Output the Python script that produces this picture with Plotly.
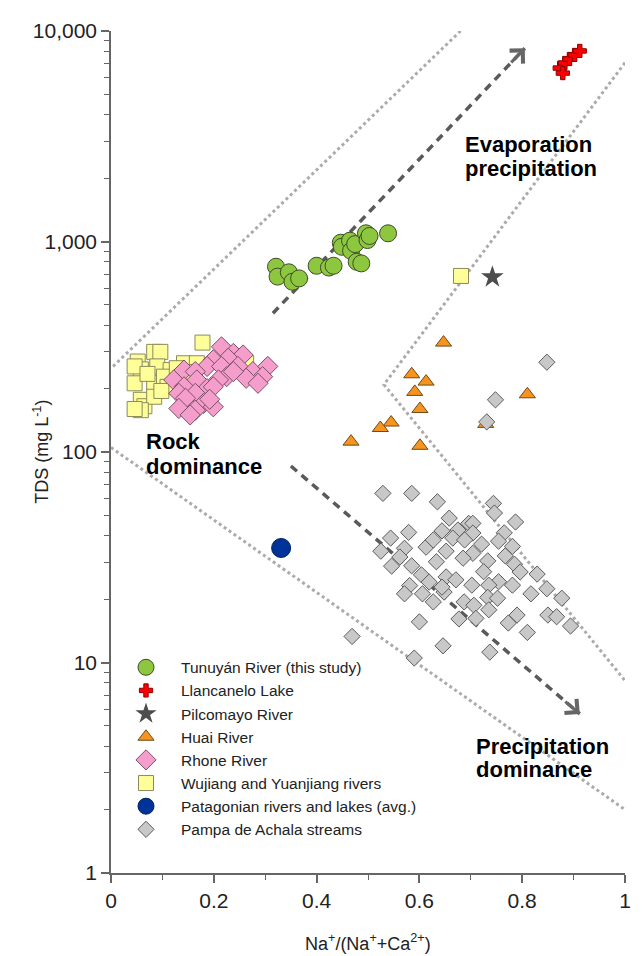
import math
import plotly.graph_objects as go

FONT = "Liberation Sans, Arial, Helvetica, sans-serif"

# ---------------- data (x = Na+/(Na+ + Ca2+), y = TDS mg/L) ----------------
tunuyan_x = [0.321, 0.324, 0.346, 0.353, 0.366, 0.400, 0.424, 0.433, 0.447, 0.449,
             0.465, 0.467, 0.475, 0.478, 0.487, 0.496, 0.499, 0.503, 0.539]
tunuyan_y = [759, 681, 714, 644, 668, 767, 752, 767, 987, 944,
             1009, 903, 972, 801, 787, 1094, 1016, 1062, 1094]

llancanelo_x = [0.873, 0.883, 0.892, 0.902, 0.912, 0.879]
llancanelo_y = [6668, 7047, 7362, 7697, 8040, 6310]

pilcomayo_x = [0.742]
pilcomayo_y = [678]

huai_x = [0.647, 0.585, 0.613, 0.591, 0.601, 0.810, 0.545, 0.524, 0.601, 0.729, 0.467]
huai_y = [331, 234, 216, 193, 160, 188, 138, 130, 107, 136, 112]

rhone_x = [0.215, 0.238, 0.257, 0.228, 0.199, 0.187, 0.215, 0.247, 0.276, 0.305,
           0.295, 0.263, 0.286, 0.225, 0.209, 0.142, 0.122, 0.164, 0.167, 0.142,
           0.187, 0.199, 0.164, 0.132, 0.145, 0.180, 0.132, 0.164, 0.199, 0.154,
           0.192, 0.238]
rhone_y = [316, 294, 289, 279, 274, 255, 255, 255, 241, 255,
           228, 224, 212, 228, 220, 245, 220, 241, 220, 204,
           200, 204, 190, 190, 180, 170, 161, 158, 164, 150,
           178, 241]

wujiang_x = [0.178, 0.084, 0.096, 0.052, 0.058, 0.046, 0.090, 0.116, 0.142, 0.167,
             0.046, 0.084, 0.103, 0.058, 0.065, 0.084, 0.110, 0.263, 0.058, 0.046,
             0.071, 0.128, 0.098, 0.160, 0.681]
wujiang_y = [331, 299, 299, 269, 247, 255, 255, 245, 264, 264,
             212, 213, 228, 177, 165, 183, 204, 264, 158, 160,
             235, 250, 195, 240, 686]

patagonia_x = [0.331]
patagonia_y = [35.0]

achala_x = [0.848, 0.748, 0.731, 0.529, 0.585, 0.635, 0.658, 0.644, 0.675, 0.696,
            0.544, 0.579, 0.525, 0.571, 0.613, 0.652, 0.585, 0.604, 0.633, 0.652,
            0.581, 0.571, 0.606, 0.627, 0.648, 0.619, 0.600, 0.677, 0.469, 0.646,
            0.590, 0.687, 0.744, 0.746, 0.787, 0.765, 0.754, 0.781, 0.704, 0.704,
            0.704, 0.733, 0.785, 0.796, 0.829, 0.754, 0.781, 0.735, 0.848, 0.817,
            0.877, 0.702, 0.733, 0.752, 0.706, 0.735, 0.710, 0.790, 0.773, 0.850,
            0.867, 0.894, 0.810, 0.737, 0.685, 0.644, 0.671, 0.562, 0.546, 0.627,
            0.665, 0.688, 0.721, 0.725, 0.767]
achala_y = [267, 177, 139, 63.6, 63.6, 58, 48.5, 42.2, 42.6, 45.8,
            39, 41.5, 33.8, 34.9, 35.3, 33.8, 28.8, 26.1, 30.1, 25.5,
            23.2, 21.2, 21.2, 19.4, 21.6, 24.1, 15.6, 16.1, 13.3, 12.0,
            10.5, 19.4, 57, 51.3, 46.5, 41.3, 37.7, 35.6, 45.8, 41.2,
            33, 30.4, 29.3, 26.9, 26.3, 24.2, 23.3, 23.3, 22.4, 21.2,
            20.2, 23.3, 20.4, 20.2, 18.7, 17.8, 16.2, 16.8, 15.4, 16.8,
            16.5, 14.9, 13.9, 11.2, 31.3, 22.8, 24.7, 31.7, 28.7, 38.2,
            39, 38.2, 36.5, 27, 32.1]

# guide lines (Gibbs boomerang) in data coordinates
rock_upper_x = [0.004, 0.680]
rock_upper_y = [255, 10000]
rock_lower_x = [0.0, 1.0]
rock_lower_y = [105, 2.0]
evap_bound_x = [1.0, 0.531, 1.0]
evap_bound_y = [7066, 209, 8.2]
arrow_up_x = [0.315, 0.805]
arrow_up_y = [456, 8277]
arrow_down_x = [0.35, 0.912]
arrow_down_y = [85.8, 5.7]

x_tickvals = [0, 0.2, 0.4, 0.6, 0.8, 1]
x_ticktext = ["0", "0.2", "0.4", "0.6", "0.8", "1"]
x_minor = [0.1, 0.3, 0.5, 0.7, 0.9]
y_tickvals = [1, 10, 100, 1000, 10000]
y_ticktext = ["1", "10", "100", "1,000", "10,000"]
y_minor = [m * d for d in (1, 10, 100, 1000) for m in range(2, 10)]

# region labels (text, x, TDS)
region_labels = [("Evaporation", 0.685, 2904), ("precipitation", 0.685, 2233),
                 ("Rock", 0.065, 111.6), ("dominance", 0.065, 85.8),
                 ("Precipitation", 0.706, 4.01), ("dominance", 0.706, 3.09)]

fig = go.Figure()

def guide(x, y, color, width, dash):
    fig.add_trace(go.Scatter(x=x, y=y, mode="lines", showlegend=False, hoverinfo="skip",
                             line=dict(color=color, width=width, dash=dash)))

DOT = "#ababab"
guide(rock_upper_x, rock_upper_y, DOT, 3, "3px,3px")
guide(rock_lower_x, rock_lower_y, DOT, 3, "3px,3px")
guide(evap_bound_x, evap_bound_y, DOT, 3, "3px,3px")
DASH = "#5a5a5a"
guide(arrow_up_x, arrow_up_y, DASH, 3.5, "8px,6px")
guide(arrow_down_x, arrow_down_y, DASH, 3.5, "8px,6px")

def pts(name, x, y, symbol, size, color, lcolor, lw, rank):
    fig.add_trace(go.Scatter(x=x, y=y, mode="markers", name=name, legendrank=rank,
                             marker=dict(symbol=symbol, size=size, color=color,
                                         line=dict(color=lcolor, width=lw))))

pts("Wujiang and Yuanjiang rivers", wujiang_x, wujiang_y, "square", 15, "#ffff99", "#8a8a5c", 1, 6)
pts("Rhone River", rhone_x, rhone_y, "diamond", 15.5, "#f59dcb", "#7a5068", 1, 5)
pts("Huai River", huai_x, huai_y, "triangle-up", 14, "#f7941d", "#6e4a1c", 1, 4)
pts("Pampa de Achala streams", achala_x, achala_y, "diamond", 12.5, "#c8c8c8", "#5c5c5c", 1, 8)
pts("Tunuyán River (this study)", tunuyan_x, tunuyan_y, "circle", 17, "#8dc63f", "#3d4d26", 1, 1)
pts("Llancanelo Lake", llancanelo_x, llancanelo_y, "cross", 11, "#ff0000", "#8b0000", 1, 2)
pts("Pilcomayo River", pilcomayo_x, pilcomayo_y, "star", 17, "#4d4d4d", "#4d4d4d", 0, 3)
pts("Patagonian rivers and lakes (avg.)", patagonia_x, patagonia_y, "circle", 19, "#003399", "#001f5c", 1, 7)

# arrowheads (open V) at arrow tips; annotation y on a log axis is given in log10 units
for tx, ty, ax, ay in [(arrow_up_x[1], arrow_up_y[1], -15, 15.6),
                       (arrow_down_x[1], arrow_down_y[1], -16, -13.6)]:
    fig.add_annotation(x=tx, y=math.log10(ty), xref="x", yref="y", ax=ax, ay=ay, text="",
                       showarrow=True, arrowhead=4, arrowsize=1.2, arrowwidth=3,
                       arrowcolor="#666666", standoff=0)

for t, lx, ly in region_labels:
    fig.add_annotation(x=lx, y=math.log10(ly), xref="x", yref="y", text="<b>" + t + "</b>",
                       showarrow=False, xanchor="left", yanchor="middle",
                       font=dict(family=FONT, size=22, color="#000000"))

fig.add_annotation(x=0.5, y=-0.082, xref="paper", yref="paper",
                   text="Na<sup>+</sup>/(Na<sup>+</sup>+Ca<sup>2+</sup>)", showarrow=False,
                   xanchor="center", yanchor="middle", font=dict(family=FONT, size=18, color="#222"))
fig.add_annotation(x=-0.1365, y=0.5, xref="paper", yref="paper",
                   text="TDS (mg L<sup>-1</sup>)", textangle=-90, showarrow=False,
                   xanchor="center", yanchor="middle", font=dict(family=FONT, size=18, color="#222"))

axis_common = dict(showline=True, linecolor="#666666", linewidth=1.5, ticks="outside",
                   ticklen=8, tickwidth=1.5, tickcolor="#666666", showgrid=False,
                   zeroline=False, tickfont=dict(family=FONT, size=21, color="#222222"))

fig.update_layout(
    width=642, height=956,
    margin=dict(l=111, r=11, t=31, b=83, pad=0),
    paper_bgcolor="white", plot_bgcolor="white",
    font=dict(family=FONT),
    showlegend=True,
    legend=dict(x=0.0, y=0.264, xanchor="left", yanchor="top", bgcolor="rgba(0,0,0,0)",
                itemwidth=60, traceorder="normal",
                font=dict(family=FONT, size=15.5, color="#222222")),
    xaxis=dict(range=[0, 1], tickvals=x_tickvals, ticktext=x_ticktext,
               minor=dict(tickvals=x_minor, ticks="outside", ticklen=5, tickcolor="#666666", tickwidth=1.2),
               **axis_common),
    yaxis=dict(type="log", range=[0, 4], tickvals=y_tickvals, ticktext=y_ticktext,
               minor=dict(tickvals=y_minor, ticks="outside", ticklen=5, tickcolor="#666666", tickwidth=1.2),
               **axis_common),
)

fig.write_html("out.html")
